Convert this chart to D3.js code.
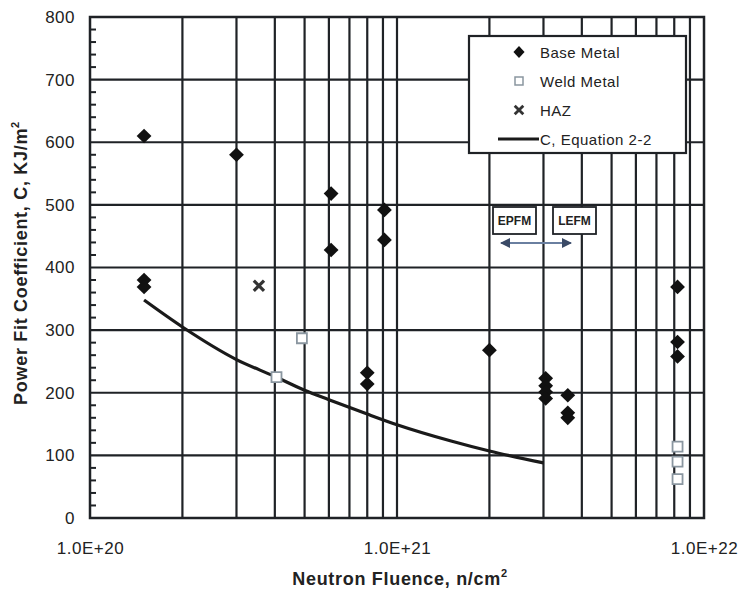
<!DOCTYPE html>
<html>
<head>
<meta charset="utf-8">
<script src="https://cdn.jsdelivr.net/npm/d3@7"></script>
<style>
  body { margin: 0; background: #fff; }
  text { font-family: "Liberation Sans", Arial, sans-serif; fill: #222; }
</style>
</head>
<body>
<div id="chart"></div>
<script>
// data
const baseMetal = [
  [1.5e20, 610], [1.5e20, 380], [1.5e20, 369],
  [3e20, 580],
  [6.1e20, 518], [6.1e20, 428],
  [9.1e20, 492], [9.1e20, 444],
  [8e20, 232], [8e20, 214],
  [2e21, 268],
  [3.05e21, 223], [3.05e21, 211], [3.05e21, 201], [3.05e21, 191],
  [3.6e21, 196], [3.6e21, 168], [3.6e21, 160],
  [8.2e21, 369], [8.2e21, 281], [8.2e21, 258]
];
const weldMetal = [[4.05e20, 225], [4.9e20, 287], [8.2e21, 114], [8.2e21, 90], [8.2e21, 62]];
const haz = [[3.55e20, 371]];
const equationC = [
  [1.5e20, 348], [2e20, 305], [3e20, 253], [4e20, 226], [5e20, 204], [6e20, 189],
  [8e20, 166], [1e21, 149], [1.5e21, 123], [2e21, 107], [3e21, 88]
];
const xTicks = [1e20, 1e21, 1e22];
const yTicks = [0, 100, 200, 300, 400, 500, 600, 700, 800];

const width = 747, height = 596;
const margin = { top: 17, right: 43, bottom: 78, left: 90 };

const svg = d3.select('#chart').append('svg')
  .attr('width', width).attr('height', height);

const x = d3.scaleLog().domain([1e20, 1e22]).range([margin.left, width - margin.right]);
const y = d3.scaleLinear().domain([0, 800]).range([height - margin.bottom, margin.top]);

const gridColor = '#1f2226';

// vertical grid at every log minor tick
const minor = x.ticks().filter(d => d > 1e20 && d < 1e22);
svg.append('g').selectAll('line').data(minor).enter().append('line')
  .attr('x1', d => x(d)).attr('x2', d => x(d))
  .attr('y1', y(0)).attr('y2', y(800))
  .attr('stroke', gridColor).attr('stroke-width', 2.2);

// horizontal grid
svg.append('g').selectAll('line').data(yTicks.filter(d => d > 0 && d < 800)).enter().append('line')
  .attr('x1', x(1e20)).attr('x2', x(1e22))
  .attr('y1', d => y(d)).attr('y2', d => y(d))
  .attr('stroke', gridColor).attr('stroke-width', 2.2);

// left axis minor ticks every 20
svg.append('g').selectAll('line').data(d3.range(20, 800, 20).filter(d => d % 100)).enter().append('line')
  .attr('x1', x(1e20)).attr('x2', x(1e20) + 6)
  .attr('y1', d => y(d)).attr('y2', d => y(d))
  .attr('stroke', gridColor).attr('stroke-width', 2);

// frame
svg.append('rect')
  .attr('x', x(1e20)).attr('y', y(800))
  .attr('width', x(1e22) - x(1e20)).attr('height', y(0) - y(800))
  .attr('fill', 'none').attr('stroke', gridColor).attr('stroke-width', 2.5);

// axes (labels only)
const yAxis = svg.append('g')
  .attr('transform', `translate(${x(1e20)},0)`)
  .call(d3.axisLeft(y).tickValues(yTicks).tickSize(0).tickPadding(15));
yAxis.select('.domain').remove();
yAxis.selectAll('text').style('font-size', '17px').style('letter-spacing', '0.5px').attr('fill', '#222');

const xAxis = svg.append('g')
  .attr('transform', `translate(0,${y(0)})`)
  .call(d3.axisBottom(x).tickValues(xTicks).tickSize(0).tickPadding(24)
    .tickFormat(d => '1.0E+' + Math.round(Math.log10(d))));
xAxis.select('.domain').remove();
xAxis.selectAll('text').style('font-size', '17px').style('letter-spacing', '0.5px').attr('fill', '#222');

// axis titles
const xt = svg.append('text')
  .attr('x', 400).attr('y', 585)
  .attr('text-anchor', 'middle')
  .style('font-size', '18px').style('font-weight', 'bold').style('letter-spacing', '0.7px');
xt.append('tspan').text('Neutron Fluence, n/cm');
xt.append('tspan').attr('dy', -8).style('font-size', '11px').text('2');

const yt = svg.append('text')
  .attr('transform', `translate(27,263) rotate(-90)`)
  .attr('text-anchor', 'middle')
  .style('font-size', '18px').style('font-weight', 'bold').style('letter-spacing', '0.7px');
yt.append('tspan').text('Power Fit Coefficient, C, KJ/m');
yt.append('tspan').attr('dy', -8).style('font-size', '11px').text('2');

// equation curve
const line = d3.line().x(d => x(d[0])).y(d => y(d[1])).curve(d3.curveMonotoneX);
svg.append('path').datum(equationC)
  .attr('d', line).attr('fill', 'none')
  .attr('stroke', '#1a1a1a').attr('stroke-width', 3.2);

// markers
const diamond = d3.symbol().type(d3.symbolDiamond).size(62);
const square = d3.symbol().type(d3.symbolSquare).size(100);
const cross = d3.symbol().type(d3.symbolX).size(70);

svg.append('g').selectAll('path').data(baseMetal).enter().append('path')
  .attr('d', diamond)
  .attr('transform', d => `translate(${x(d[0])},${y(d[1])}) scale(1.75,1)`)
  .attr('fill', '#111');

svg.append('g').selectAll('path').data(weldMetal).enter().append('path')
  .attr('d', square)
  .attr('transform', d => `translate(${x(d[0])},${y(d[1])})`)
  .attr('fill', '#fff').attr('stroke', '#8a96a0').attr('stroke-width', 1.8);

svg.append('g').selectAll('path').data(haz).enter().append('path')
  .attr('d', cross)
  .attr('transform', d => `translate(${x(d[0])},${y(d[1])})`)
  .attr('fill', 'none').attr('stroke', '#333').attr('stroke-width', 3.2);

// legend
const lg = svg.append('g');
lg.append('rect').attr('x', 469).attr('y', 36).attr('width', 217).attr('height', 117)
  .attr('fill', '#fff').attr('stroke', gridColor).attr('stroke-width', 2.2);
const legendItems = [
  { label: 'Base Metal', sym: 'diamond' },
  { label: 'Weld Metal', sym: 'square' },
  { label: 'HAZ', sym: 'cross' },
  { label: 'C, Equation 2-2', sym: 'line' }
];
legendItems.forEach((it, i) => {
  const cy = 52 + i * 29;
  if (it.sym === 'diamond') {
    lg.append('path').attr('d', d3.symbol().type(d3.symbolDiamond).size(42))
      .attr('transform', `translate(519,${cy}) scale(1.6,1)`).attr('fill', '#111');
  } else if (it.sym === 'square') {
    lg.append('path').attr('d', d3.symbol().type(d3.symbolSquare).size(64))
      .attr('transform', `translate(519,${cy})`)
      .attr('fill', '#fff').attr('stroke', '#8a96a0').attr('stroke-width', 1.5);
  } else if (it.sym === 'cross') {
    lg.append('path').attr('d', d3.symbol().type(d3.symbolX).size(50))
      .attr('transform', `translate(519,${cy})`)
      .attr('stroke', '#333').attr('stroke-width', 2.8);
  } else {
    lg.append('line').attr('x1', 498).attr('x2', 539).attr('y1', cy).attr('y2', cy)
      .attr('stroke', '#1a1a1a').attr('stroke-width', 3.2);
  }
  lg.append('text').attr('x', 540).attr('y', cy + 5.5)
    .style('font-size', '15px').style('letter-spacing', '0.5px').attr('fill', '#333').text(it.label);
});

// EPFM / LEFM annotation
const ann = svg.append('g');
[{ label: 'EPFM', x0: 493 }, { label: 'LEFM', x0: 553 }].forEach(b => {
  ann.append('rect').attr('x', b.x0).attr('y', 207).attr('width', 43).attr('height', 27)
    .attr('fill', '#fff').attr('stroke', gridColor).attr('stroke-width', 1.8);
  ann.append('text').attr('x', b.x0 + 21.5).attr('y', 225).attr('text-anchor', 'middle')
    .style('font-size', '12px').style('font-weight', 'bold').attr('fill', '#333').text(b.label);
});
const defs = svg.append('defs');
defs.append('marker').attr('id', 'ah').attr('viewBox', '0 0 10 10')
  .attr('refX', 9).attr('refY', 5).attr('markerWidth', 5).attr('markerHeight', 5)
  .attr('orient', 'auto-start-reverse')
  .append('path').attr('d', 'M0,0L10,5L0,10z').attr('fill', '#3a4a66');
ann.append('line').attr('x1', 501).attr('x2', 571).attr('y1', 243).attr('y2', 243)
  .attr('stroke', '#6a7fa0').attr('stroke-width', 2)
  .attr('marker-start', 'url(#ah)').attr('marker-end', 'url(#ah)');
</script>
</body>
</html>
